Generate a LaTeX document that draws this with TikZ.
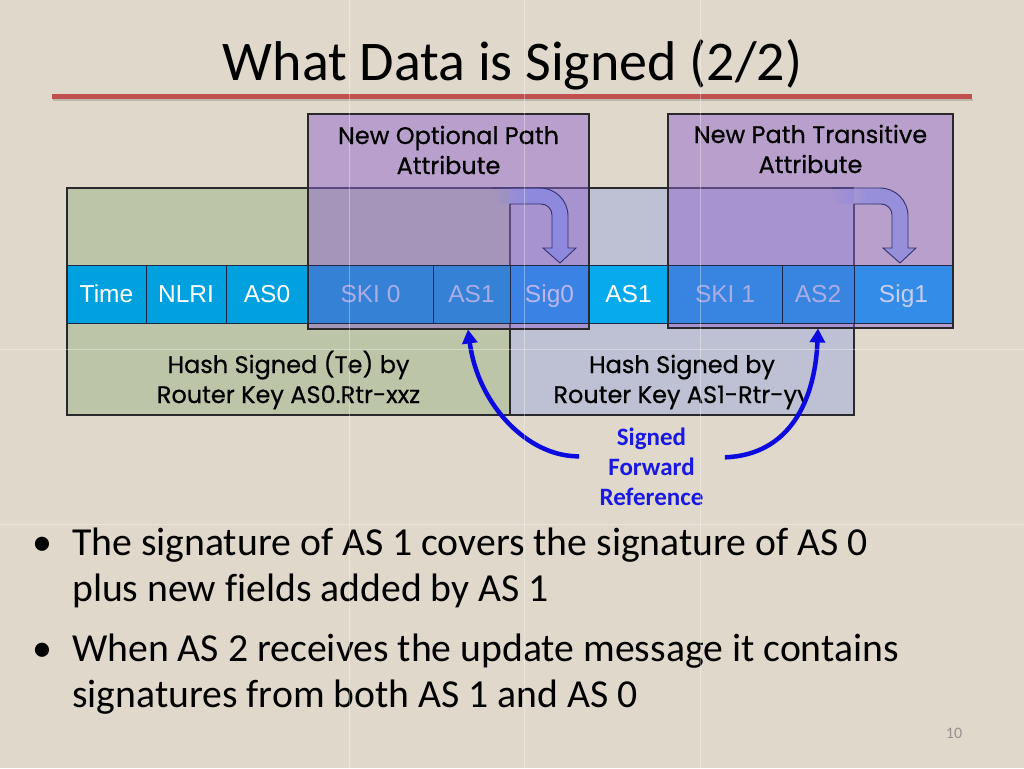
\documentclass[tikz,border=0pt]{standalone}
\usepackage{fontspec}
\setmainfont{Carlito}[Ligatures=NoCommon]
\newfontfamily\arialf{Liberation Sans}
\newfontfamily\comicf{Poppins}[FakeBold=0.6]
\usetikzlibrary{arrows.meta,fadings,calc}

\definecolor{bg}{RGB}{224,216,202}
\definecolor{sage}{RGB}{189,197,168}
\definecolor{lblue}{RGB}{189,193,211}
\definecolor{lav}{RGB}{145,103,207}
\definecolor{boxl}{RGB}{40,40,45}
\definecolor{fline}{RGB}{30,40,70}
\definecolor{cyanf}{RGB}{0,161,222}
\definecolor{cyanb}{RGB}{8,170,238}
\definecolor{bluein}{RGB}{52,129,214}
\definecolor{bluesig}{RGB}{58,131,228}
\definecolor{bluein2}{RGB}{55,133,224}
\definecolor{bluesig1}{RGB}{50,140,232}
\definecolor{lavtext}{RGB}{172,172,228}
\definecolor{sigtext}{RGB}{188,182,236}
\definecolor{sig1text}{RGB}{200,205,242}
\definecolor{bendc}{RGB}{120,128,232}
\definecolor{bendl}{RGB}{50,50,110}
\definecolor{arrblue}{RGB}{10,10,225}
\definecolor{sfblue}{RGB}{25,25,225}
\definecolor{redline}{RGB}{192,80,77}
\definecolor{pgray}{RGB}{150,145,140}

\tikzfading[name=bandfade, left color=transparent!100, right color=transparent!0]

\begin{document}
\begin{tikzpicture}[x=1pt,y=-1pt,
  field/.style={draw=fline, line width=0.9pt, minimum height=58pt, inner sep=0pt,
    text height=17.5pt, text depth=0pt, font=\arialf\fontsize{24.5}{28}\selectfont},
  boxline/.style={draw=boxl, line width=1.1pt},
  lbl/.style={font=\comicf\fontsize{24}{28}\selectfont, anchor=base, inner sep=0pt},
  bul/.style={font=\fontsize{39.7}{44}\selectfont, anchor=base west, inner sep=0pt},
  bdot/.style={font=\fontsize{40}{44}\selectfont, anchor=base, inner sep=0pt},
  sfr/.style={font=\bfseries\fontsize{25}{30}\selectfont, text=sfblue, anchor=base, inner sep=0pt},
  bluearrow/.style={draw=arrblue, line width=4.5pt, -{Triangle[length=14pt,width=15pt]}},
  bendfill/.style={fill=bendc, fill opacity=0.5},
  bendline/.style={draw=bendl, line width=0.9pt, line join=miter},
  seam/.style={draw=white, line width=0.8pt, opacity=0.35}
]
\useasboundingbox (0,0) rectangle (1024,768);
\fill[bg] (0,0) rectangle (1024,768);

% title
\node[font=\fontsize{56}{60}\selectfont, anchor=base, inner sep=0pt] (title) at (512.5,80) {What Data is Signed (2/2)};
\draw[line width=2pt, black, opacity=0.15] (53,100) -- (973,100);
\draw[line width=5pt, redline] (52,96) -- (972,96);

% hash boxes
\fill[sage] (67,188) rectangle (510,415);
\fill[lblue] (510,188) rectangle (854,415);
\draw[boxline] (510,204) -- (510,415) -- (67,415) -- (67,188) -- (510,188);
\draw[boxline] (510,188) -- (854,188);
\draw[boxline] (854,204) -- (854,415) -- (510,415);

% lavender attribute boxes (fill)
\fill[lav, fill opacity=0.5] (308,114) rectangle (589,329);
\fill[lav, fill opacity=0.5] (668,114) rectangle (953,328);

% fields
\node[field, fill=cyanf, text=white, minimum width=79pt] (fTime) at (106.5,294) {Time};
\node[field, fill=cyanf, text=white, minimum width=80pt] (fNLRI) at (186,294) {NLRI};
\node[field, fill=cyanf, text=white, minimum width=82pt] (fAS0) at (267,294) {AS0};
\node[field, fill=bluein, text=lavtext, minimum width=125pt] (fSKI0) at (370.5,294) {SKI 0};
\node[field, fill=bluein, text=lavtext, minimum width=77pt] (fAS1a) at (471.5,294) {AS1};
\node[field, fill=bluesig, text=sigtext, minimum width=79pt] (fSig0) at (549.5,294) {Sig0};
\node[field, fill=cyanb, text=white, minimum width=79pt] (fAS1b) at (628.5,294) {AS1};
\node[field, fill=bluein2, text=lavtext, minimum width=114pt] (fSKI1) at (725,294) {SKI 1};
\node[field, fill=bluein2, text=lavtext, minimum width=72pt] (fAS2) at (818,294) {AS2};
\node[field, fill=bluesig1, text=sig1text, minimum width=99pt] (fSig1) at (903.5,294) {Sig1};

% lavender box borders
\draw[boxline] (308,114) rectangle (589,329);
\draw[boxline] (668,114) rectangle (953,328);

% bent arrows
\fill[bendfill, path fading=bandfade] (492,188) rectangle (528,204);
\fill[bendfill] (528,188) -- (540,188) .. controls (555.5,188) and (568,200.5) .. (568,216)
  -- (568,248) -- (576,248) -- (560,263) -- (543,248) -- (552,248) -- (552,215)
  .. controls (552,208.9) and (547.1,204) .. (541,204) -- (528,204) -- cycle;
\draw[bendline] (510,204) -- (541,204) .. controls (547.1,204) and (552,208.9) .. (552,215)
  -- (552,248) -- (543,248) -- (560,263) -- (576,248) -- (568,248) -- (568,216)
  .. controls (568,200.5) and (555.5,188) .. (540,188) -- (492,188);

\fill[bendfill, path fading=bandfade] (832,188) rectangle (868,204);
\fill[bendfill] (868,188) -- (880,188) .. controls (895.5,188) and (908,200.5) .. (908,216)
  -- (908,248) -- (916,248) -- (900,263) -- (883,248) -- (892,248) -- (892,215)
  .. controls (892,208.9) and (887.1,204) .. (881,204) -- (868,204) -- cycle;
\draw[bendline] (854,204) -- (881,204) .. controls (887.1,204) and (892,208.9) .. (892,215)
  -- (892,248) -- (883,248) -- (900,263) -- (916,248) -- (908,248) -- (908,216)
  .. controls (908,200.5) and (895.5,188) .. (880,188) -- (832,188);

% labels
\node[lbl] (nopA) at (448.5,144) {New Optional Path};
\node[lbl] (nopB) at (448.5,174) {Attribute};
\node[lbl] (nptA) at (810.5,143) {New Path Transitive};
\node[lbl] (nptB) at (810.5,173) {Attribute};
\node[lbl] (hs0A) at (288.5,373) {Hash Signed (Te) by};
\node[lbl] (hs0B) at (288.5,403) {Router Key AS0.Rtr-xxz};
\node[lbl] (hs1A) at (682,373) {Hash Signed by};
\node[lbl] (hs1B) at (682,403) {Router Key AS1-Rtr-yy};

% signed forward reference
\node[sfr] (sfr1) at (651.5,445) {Signed};
\node[sfr] (sfr2) at (651.5,475) {Forward};
\node[sfr] (sfr3) at (651.5,505) {Reference};

\coordinate (lstart) at ($(sfr2.west)+(-29,-10)$);
\coordinate (rstart) at ($(sfr2.east)+(30,-9)$);
\coordinate (ltip) at ($(fAS1a.south)+(-3.5,6)$);
\coordinate (rtip) at ($(fAS2.south)+(0,5)$);
\draw[bluearrow] (lstart) .. controls (528,457) and (478,405) .. (ltip);
\draw[bluearrow] (rstart) .. controls (790,455) and (815,400) .. (rtip);

% bullets
\node[bdot] (d1) at (42,555) {•};
\node[bul] (b1a) at (72,555) {The signature of AS 1 covers the signature of AS 0};
\node[bul] (b1b) at (72,601) {plus new fields added by AS 1};
\node[bdot] (d2) at (42,661) {•};
\node[bul] (b2a) at (72,661) {When AS 2 receives the update message it contains};
\node[bul] (b2b) at (72,707) {signatures from both AS 1 and AS 0};

\node[font=\fontsize{16}{18}\selectfont, text=pgray, anchor=base, inner sep=0pt] (pg) at (954,738) {10};

% faint image seams
\draw[seam] (349,0) -- (349,768);
\draw[seam] (524,0) -- (524,768);
\draw[seam] (700,0) -- (700,768);
\draw[seam] (0,349) -- (1024,349);
\draw[seam] (0,524) -- (1024,524);
\end{tikzpicture}
\end{document}
